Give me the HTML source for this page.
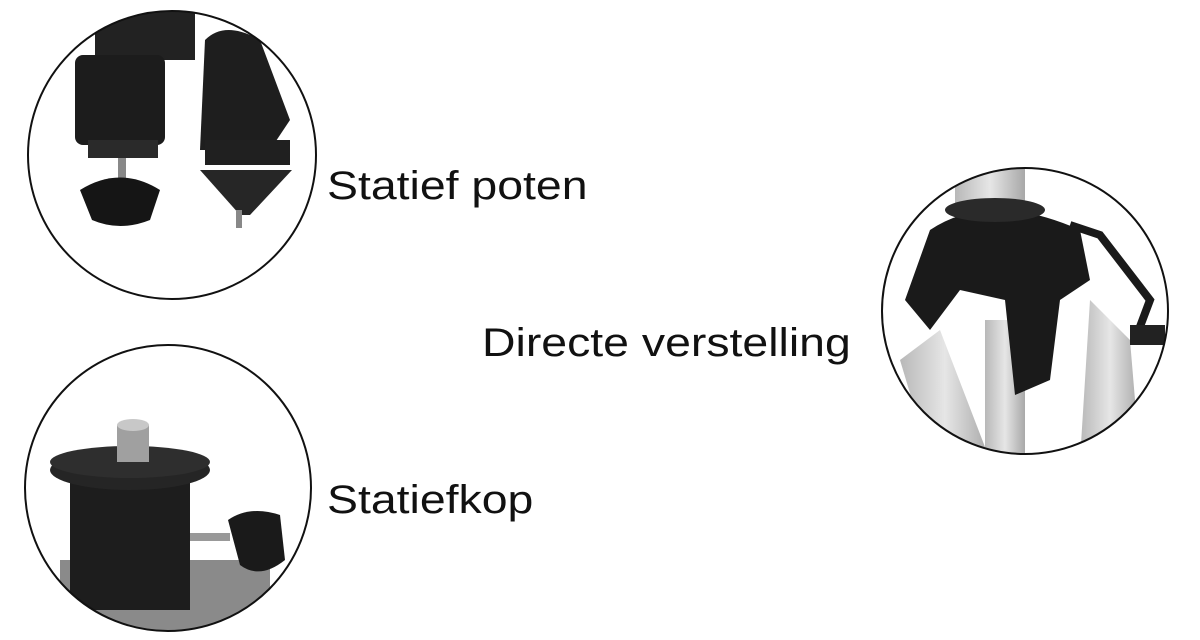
<!DOCTYPE html>
<html><head><meta charset="utf-8"><style>
html,body{margin:0;padding:0;background:#fff;width:1200px;height:640px;overflow:hidden}
svg{position:absolute;left:0;top:0}
.t{position:absolute;font-family:"Liberation Sans",sans-serif;font-size:40px;color:#111;white-space:nowrap;transform:scaleX(1.16);transform-origin:0 0}
</style></head><body>
<svg width="1200" height="640" viewBox="0 0 1200 640">
<defs>
<clipPath id="c1"><circle cx="172" cy="155" r="144"/></clipPath>
<clipPath id="c2"><circle cx="168" cy="488" r="143"/></clipPath>
<clipPath id="c3"><circle cx="1025" cy="311" r="143"/></clipPath>
<linearGradient id="al" x1="0" x2="1"><stop offset="0" stop-color="#b8b8b8"/><stop offset=".5" stop-color="#e6e6e6"/><stop offset="1" stop-color="#a8a8a8"/></linearGradient>
</defs>
<g clip-path="url(#c1)">
<rect x="95" y="0" width="100" height="60" fill="#222"/>
<rect x="75" y="55" width="90" height="90" rx="8" fill="#1c1c1c"/>
<rect x="88" y="140" width="70" height="18" fill="#2a2a2a"/>
<rect x="118" y="158" width="8" height="25" fill="#888"/>
<path d="M80 190 Q120 165 160 190 L150 220 Q120 232 92 220Z" fill="#151515"/>
<path d="M205 40 Q225 20 260 40 L290 120 L270 150 L200 150 Z" fill="#1e1e1e"/>
<rect x="205" y="140" width="85" height="25" fill="#202020"/>
<path d="M200 170 L292 170 L250 215 L240 215 Z" fill="#262626"/>
<rect x="236" y="210" width="6" height="18" fill="#888"/>
</g>
<circle cx="172" cy="155" r="144" fill="none" stroke="#111" stroke-width="2"/>
<g clip-path="url(#c2)">
<rect x="60" y="560" width="210" height="80" fill="#8a8a8a"/>
<rect x="70" y="470" width="120" height="140" fill="#1d1d1d"/>
<ellipse cx="130" cy="470" rx="80" ry="20" fill="#252525"/>
<ellipse cx="130" cy="462" rx="80" ry="16" fill="#2e2e2e"/>
<rect x="117" y="425" width="32" height="37" fill="#a0a0a0"/>
<ellipse cx="133" cy="425" rx="16" ry="6" fill="#c8c8c8"/>
<rect x="190" y="533" width="40" height="8" fill="#999"/>
<path d="M228 520 Q250 505 280 515 L285 560 Q260 580 240 565 Z" fill="#1a1a1a"/>
</g>
<circle cx="168" cy="488" r="143" fill="none" stroke="#111" stroke-width="2"/>
<g clip-path="url(#c3)">
<rect x="955" y="160" width="70" height="60" fill="url(#al)"/>
<path d="M900 360 L940 330 L990 460 L930 460Z" fill="url(#al)"/>
<path d="M1090 300 L1130 340 L1140 460 L1080 460Z" fill="url(#al)"/>
<rect x="985" y="320" width="40" height="140" fill="url(#al)"/>
<path d="M930 230 Q990 190 1080 230 L1090 280 L1060 300 L1050 380 L1015 395 L1005 300 L960 290 L930 330 L905 300 Z" fill="#1a1a1a"/>
<ellipse cx="995" cy="210" rx="50" ry="12" fill="#2a2a2a"/>
<path d="M1070 225 L1100 235 L1150 300 L1135 340" stroke="#1a1a1a" stroke-width="8" fill="none"/>
<rect x="1130" y="325" width="35" height="20" fill="#222"/>
</g>
<circle cx="1025" cy="311" r="143" fill="none" stroke="#111" stroke-width="2"/>
</svg>
<div class="t" style="left:327px;top:164px">Statief poten</div>
<div class="t" style="left:327px;top:478px">Statiefkop</div>
<div class="t" style="left:482px;top:321px">Directe verstelling</div>
</body></html>
